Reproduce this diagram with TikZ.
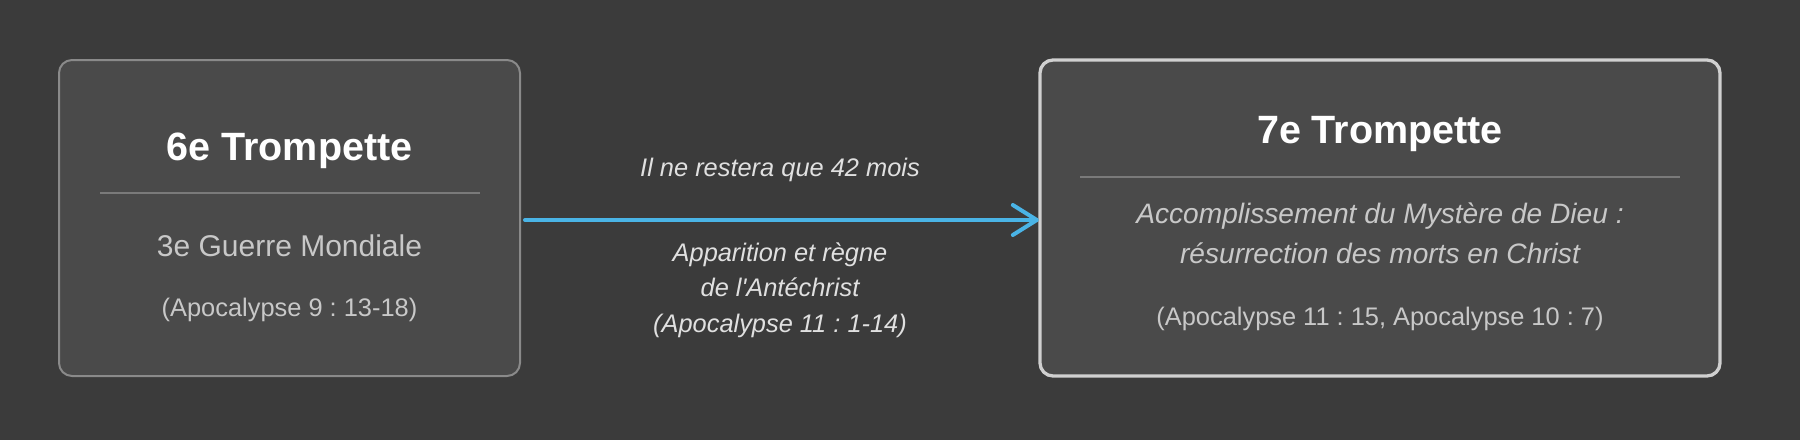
\documentclass[tikz,border=0pt]{standalone}
\usepackage{fontspec}
\setmainfont{Liberation Sans}[Ligatures=TeXOff]
\usetikzlibrary{arrows.meta}
\frenchspacing
\definecolor{bgc}{HTML}{3B3B3B}
\definecolor{boxfill}{HTML}{4A4A4A}
\definecolor{leftborder}{HTML}{8A8A8A}
\definecolor{rightborder}{HTML}{D0D0D0}
\definecolor{divc}{HTML}{7A7A7A}
\definecolor{desccol}{HTML}{C8C8C8}
\definecolor{labcol}{HTML}{E0E0E0}
\definecolor{arrowc}{HTML}{4AB4E6}
\tikzset{
  card/.style={rounded corners=13pt, fill=boxfill, inner sep=0pt},
  titletxt/.style={anchor=base, text=white, font=\fontsize{39.5}{47}\selectfont\bfseries, inner sep=0pt},
  desctxt/.style={anchor=base, text=desccol, inner sep=0pt},
  reftxt/.style={anchor=base, text=desccol, font=\fontsize{25.4}{35.5}\selectfont, inner sep=0pt},
  labtxt/.style={anchor=base, text=labcol, font=\fontsize{25.4}{35.5}\selectfont\itshape, inner sep=0pt},
  divider/.style={draw=divc, line width=1.5pt},
  flow/.style={draw=arrowc, line width=4pt, line cap=round, -{Straight Barb[length=24pt,width=30pt,round]}}
}
\begin{document}
\begin{tikzpicture}[x=1pt,y=-1pt]
\fill[bgc] (0,0) rectangle (1800,440);
\useasboundingbox (0,0) rectangle (1800,440);
% left card
\node[card, draw=leftborder, line width=2pt, minimum width=461pt, minimum height=316pt] (L) at (289.5,218) {};
\node[titletxt] (Lt) at (289.5,160) {6e Trompette};
\draw[divider] (100,193) -- (480,193);
\node[desctxt, font=\fontsize{30}{42}\selectfont] (Ld) at (289.5,256) {3e Guerre Mondiale};
\node[reftxt] (Lr) at (289.5,316) {(Apocalypse 9 : 13-18)};
% right card
\node[card, draw=rightborder, line width=3.3pt, minimum width=680pt, minimum height=316pt] (R) at (1380,218) {};
\node[titletxt] (Rt) at (1380,143) {7e Trompette};
\draw[divider] (1080,177) -- (1680,177);
\node[desctxt, font=\fontsize{28.1}{39.5}\selectfont\itshape] (Rd1) at (1380,223) {Accomplissement du Mystère de Dieu :};
\node[desctxt, font=\fontsize{28.1}{39.5}\selectfont\itshape] (Rd2) at (1380,263) {résurrection des morts en Christ};
\node[reftxt] (Rr) at (1380,325) {(Apocalypse 11 : 15, Apocalypse 10 : 7)};
% connector
\draw[flow] ([xshift=4pt,yshift=-2pt]L.east) -- ([xshift=0.5pt,yshift=-2pt]R.west);
\node[labtxt] (a1) at (780,176) {Il ne restera que 42 mois};
\node[labtxt] (a2) at (780,261) {Apparition et règne};
\node[labtxt] (a3) at (780,296) {de l'Antéchrist};
\node[labtxt] (a4) at (780,332) {(Apocalypse 11 : 1-14)};
\end{tikzpicture}
\end{document}
